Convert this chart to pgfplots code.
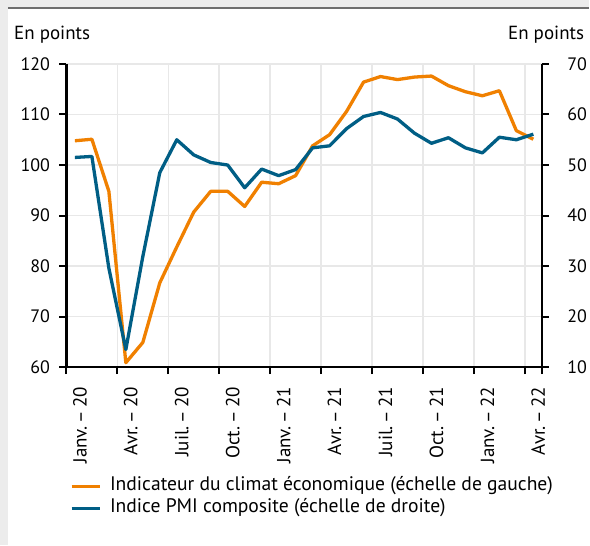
\documentclass[border=0pt]{standalone}
\usepackage{fontspec}
\setmainfont{PT Sans}
\usepackage{pgfplots}
\usepackage{pgfplotstable}
\pgfplotsset{compat=1.18}
\definecolor{orangeC}{RGB}{240,128,0}
\definecolor{blueC}{RGB}{0,94,133}
\definecolor{gridC}{RGB}{232,232,232}
\definecolor{bgC}{RGB}{236,236,236}
\definecolor{topC}{RGB}{110,110,110}

\pgfplotstableread{
i esi
0 104.8
1 105.1
2 94.8
3 60.9
4 64.9
5 76.7
6 83.8
7 90.7
8 94.8
9 94.8
10 91.8
11 96.6
12 96.3
13 97.9
14 103.8
15 106.0
16 110.6
17 116.4
18 117.5
19 116.9
20 117.4
21 117.6
22 115.7
23 114.5
24 113.7
25 114.7
26 106.8
27 105.1
}\esitable

\pgfplotstableread{
i pmi
0 51.5
1 51.7
2 29.6
3 13.5
4 31.9
5 48.5
6 55.0
7 52.0
8 50.5
9 50.0
10 45.5
11 49.2
12 47.9
13 49.1
14 53.4
15 53.8
16 57.2
17 59.6
18 60.4
19 59.1
20 56.3
21 54.3
22 55.4
23 53.4
24 52.4
25 55.5
26 55.0
27 56.1
}\pmitable

\newcommand{\tickfont}{\fontsize{18}{20}\selectfont}
\newcommand{\xfont}{\fontsize{19}{21}\selectfont}
\newcommand{\legfont}{\fontsize{19.6}{22}\selectfont}
\newcommand{\dsh}{\thinspace--\thinspace}

\begin{document}
\begin{tikzpicture}
\fill[bgC] (0pt,0pt) rectangle (590pt,-546pt);
\fill[white] (8pt,-9pt) rectangle (590pt,-546pt);
\draw[topC, line width=1.5pt] (8pt,-8pt) -- (590pt,-8pt);
\useasboundingbox (0pt,0pt) rectangle (590pt,-546pt);
\node[anchor=base west, inner sep=0pt, font=\fontsize{19}{21}\selectfont] at (14pt,-40pt) {En points};
\node[anchor=base east, inner sep=0pt, font=\fontsize{19}{21}\selectfont] at (585pt,-40pt) {En points};

\begin{axis}[
  at={(66.5pt,-367.7pt)}, anchor=south west,
  scale only axis, width=476pt, height=303.7pt,
  xmin=-0.5, xmax=27.5, ymin=60, ymax=120,
  axis y line*=left, axis x line*=bottom,
  axis line style={line width=2.2pt, -},
  xtick={-0.5,2.5,...,26.5,27.5}, xticklabels={},
  ytick={60,70,...,120},
  tick align=outside,
  major tick length=7pt,
  tick style={line width=2pt, black},
  xmajorgrids, ymajorgrids,
  grid style={gridC, line width=1.5pt},
  /pgf/number format/assume math mode=true,
  yticklabel style={font=\tickfont, xshift=-6pt},
  extra x ticks={0,3,...,27},
  extra x tick labels={Janv.\dsh20,Avr.\dsh20,Juil.\dsh20,Oct.\dsh20,Janv.\dsh21,Avr.\dsh21,Juil.\dsh21,Oct.\dsh21,Janv.\dsh22,Avr.\dsh22},
  extra x tick style={major tick length=0pt, grid=none,
     tick label style={font=\xfont, yshift=-16pt, xshift=5pt, rotate=90, anchor=east}},
]
\addplot[orangeC, line width=3.3pt, line join=round] table[x=i, y=esi] {\esitable};
\end{axis}

\begin{axis}[
  at={(66.5pt,-367.7pt)}, anchor=south west,
  scale only axis, width=476pt, height=303.7pt,
  xmin=-0.5, xmax=27.5, ymin=10, ymax=70,
  axis y line*=right, axis x line=none,
  axis line style={line width=2.2pt, -},
  ytick={10,20,...,70},
  tick align=outside,
  major tick length=7pt,
  tick style={line width=2pt, black},
  /pgf/number format/assume math mode=true,
  yticklabel style={font=\tickfont, xshift=15pt},
  legend style={draw=none, fill=none, at={(0.001,-0.357)}, anchor=north west,
    font=\legfont, column sep=9pt, row sep=5pt,
    nodes={inner sep=0pt, text height=13pt, text depth=4pt}},
  legend cell align=left,
  legend image code/.code={\draw[#1, line width=3pt] (0pt,0pt) -- (28pt,0pt);},
]
\addlegendimage{orangeC, line width=3pt}
\addlegendentry{Indicateur du climat économique (échelle de gauche)}
\addplot[blueC, line width=3.3pt, line join=round] table[x=i, y=pmi] {\pmitable};
\addlegendentry{Indice PMI composite (échelle de droite)}
\end{axis}
\end{tikzpicture}
\end{document}
